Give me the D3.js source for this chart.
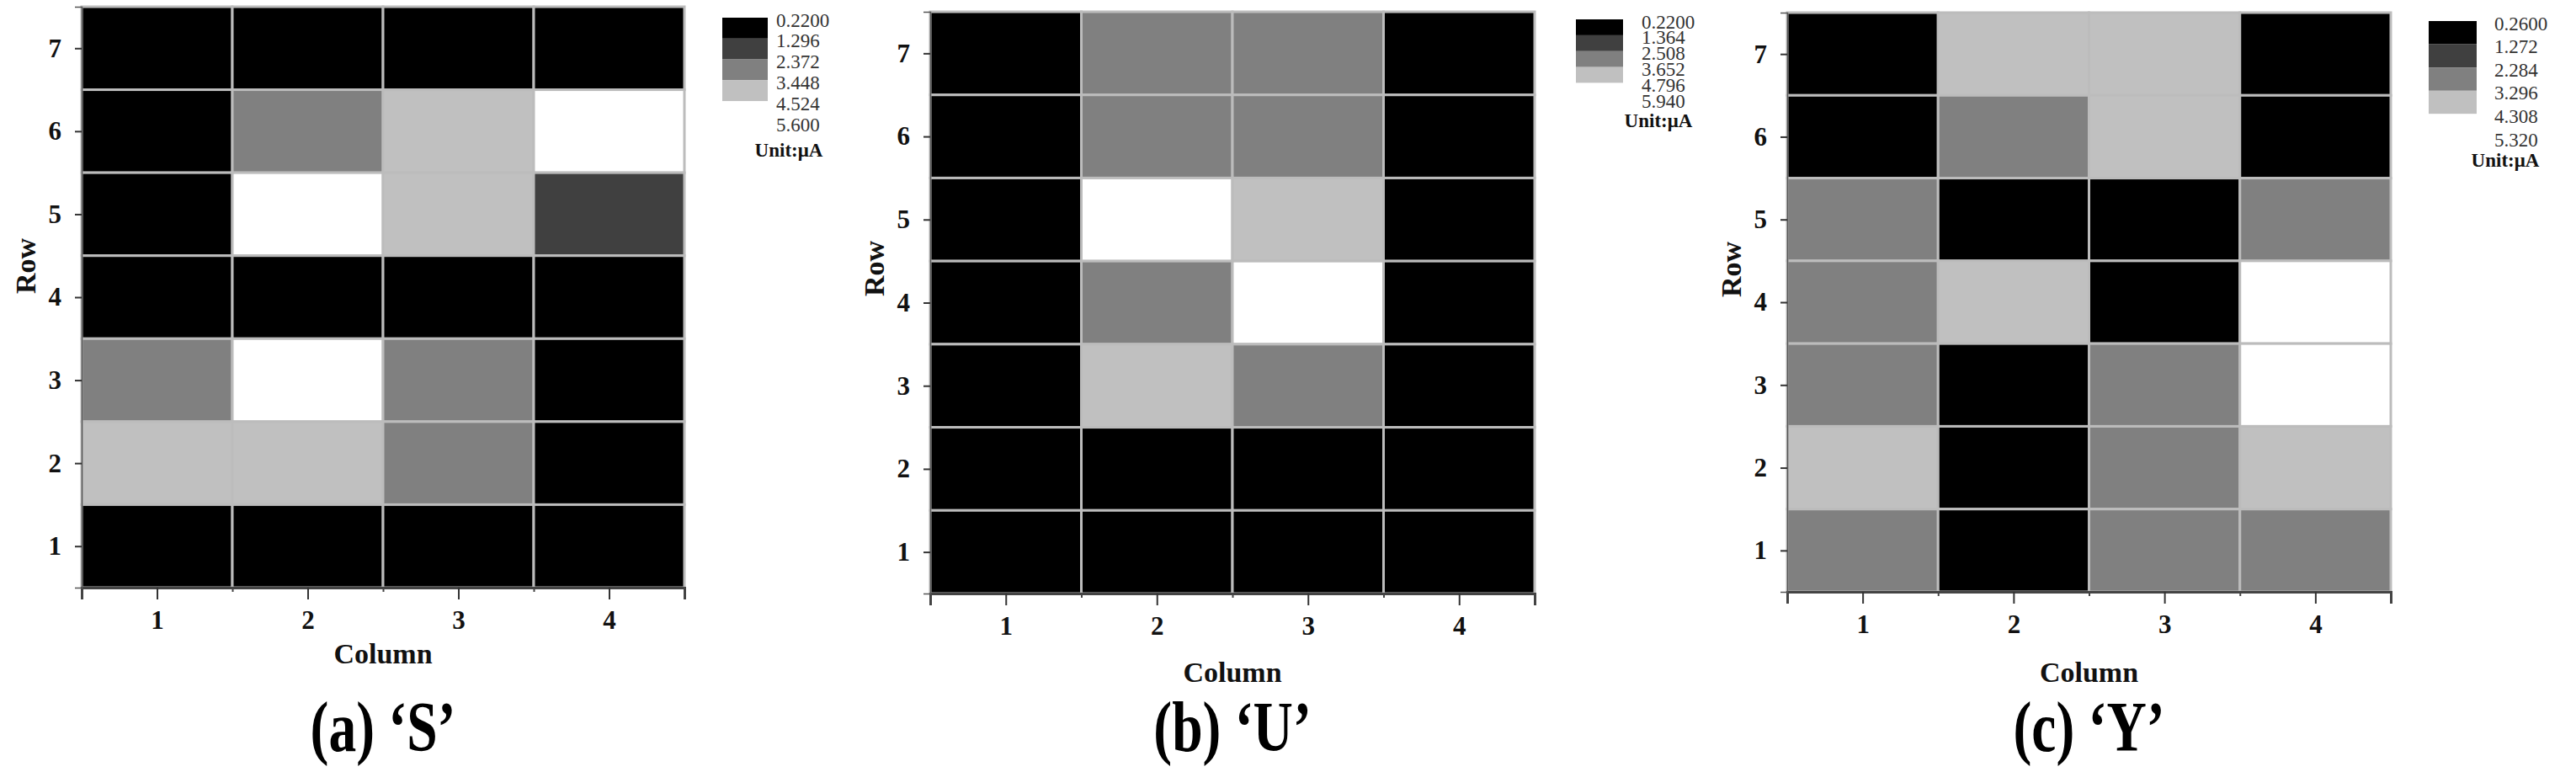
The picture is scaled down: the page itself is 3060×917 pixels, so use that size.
<!DOCTYPE html>
<html>
<head>
<meta charset="utf-8">
<script src="https://cdn.jsdelivr.net/npm/d3@7"></script>
<style>
  body { margin: 0; background: #fff; }
  text { font-family: "Liberation Serif", "Times New Roman", serif; }
</style>
</head>
<body>
<svg id="chart" width="3060" height="917"></svg>
<script>
// ---------------- DATA ----------------
const columns = [1, 2, 3, 4];
const rows = [1, 2, 3, 4, 5, 6, 7];
const rowsTopDown = [7, 6, 5, 4, 3, 2, 1];

// Current (µA), listed row 7 (top) to row 1 (bottom), columns 1..4
const sValues = [
  [0.35, 0.41, 0.38, 0.45],
  [0.52, 2.95, 3.92, 5.31],
  [0.47, 5.42, 4.05, 1.86],
  [0.33, 0.40, 0.36, 0.44],
  [2.88, 5.27, 3.01, 0.50],
  [4.12, 3.86, 2.79, 0.42],
  [0.30, 0.37, 0.34, 0.39]
];
const uValues = [
  [0.38, 3.12, 3.05, 0.41],
  [0.44, 2.97, 3.18, 0.36],
  [0.40, 5.62, 4.21, 0.47],
  [0.35, 3.08, 5.71, 0.42],
  [0.39, 4.15, 3.02, 0.45],
  [0.33, 0.37, 0.40, 0.36],
  [0.31, 0.34, 0.38, 0.35]
];
const yValues = [
  [0.42, 3.81, 3.75, 0.39],
  [0.45, 2.79, 3.88, 0.41],
  [2.71, 0.48, 0.44, 2.83],
  [2.86, 3.92, 0.46, 4.95],
  [2.77, 0.40, 2.69, 5.08],
  [3.85, 0.43, 2.91, 3.79],
  [2.74, 0.38, 2.82, 2.88]
];

const sThresholds = [0.22, 1.296, 2.372, 3.448, 4.524, 5.6];
const uThresholds = [0.22, 1.364, 2.508, 3.652, 4.796, 5.94];
const yThresholds = [0.26, 1.272, 2.284, 3.296, 4.308, 5.32];

const sLegendLabels = ["0.2200", "1.296", "2.372", "3.448", "4.524", "5.600"];
const uLegendLabels = ["0.2200", "1.364", "2.508", "3.652", "4.796", "5.940"];
const yLegendLabels = ["0.2600", "1.272", "2.284", "3.296", "4.308", "5.320"];

const captions = ["(a) \u2018S\u2019", "(b) \u2018U\u2019", "(c) \u2018Y\u2019"];
const xTitle = "Column";
const yTitle = "Row";
const unitLabel = "Unit:\u03BCA";

const bandColors = ["#000000", "#404040", "#808080", "#c0c0c0", "#ffffff"];

// ---------------- LAYOUT ----------------
const layouts = [
  { L: 97,   R: 813,  T: 8,  B: 698, swX: 858,  swW: 54, lgTop: 21, lgStep: 24.8, lblX: 922,  unitX: 937,  unitY: 178, colY: 788, rowY: 316 },
  { L: 1105, R: 1823, T: 14, B: 705, swX: 1872, swW: 56, lgTop: 23, lgStep: 18.9, lblX: 1950, unitX: 1970, unitY: 143, colY: 810, rowY: 319 },
  { L: 2123, R: 2840, T: 15, B: 703, swX: 2885, swW: 57, lgTop: 25, lgStep: 27.6, lblX: 2963, unitX: 2976, unitY: 190, colY: 810, rowY: 320 }
];

const panels = [
  { values: sValues, thresholds: sThresholds, legend: sLegendLabels, caption: captions[0], lay: layouts[0] },
  { values: uValues, thresholds: uThresholds, legend: uLegendLabels, caption: captions[1], lay: layouts[1] },
  { values: yValues, thresholds: yThresholds, legend: yLegendLabels, caption: captions[2], lay: layouts[2] }
];

const svg = d3.select("#chart");

panels.forEach(p => {
  const lay = p.lay;
  const g = svg.append("g");
  const x = d3.scaleLinear().domain([0.5, 4.5]).range([lay.L, lay.R]);
  const y = d3.scaleLinear().domain([0.5, 7.5]).range([lay.B, lay.T]);
  const color = d3.scaleThreshold().domain(p.thresholds.slice(1, 5)).range(bandColors);

  const cells = [];
  p.values.forEach((rowVals, i) => {
    rowVals.forEach((v, j) => cells.push({ r: rowsTopDown[i], c: columns[j], v }));
  });

  g.append("g").selectAll("rect").data(cells).join("rect")
    .attr("x", d => x(d.c - 0.5))
    .attr("y", d => y(d.r + 0.5))
    .attr("width", d => x(d.c + 0.5) - x(d.c - 0.5))
    .attr("height", d => y(d.r - 0.5) - y(d.r + 0.5))
    .attr("fill", d => color(d.v))
    .attr("stroke", "#bcbcbc")
    .attr("stroke-width", 3);

  // X axis: major ticks at column centres
  const xAxis = g.append("g").attr("transform", `translate(0,${lay.B})`)
    .call(d3.axisBottom(x).tickValues(columns).tickSize(14).tickPadding(13).tickFormat(d3.format("d")));
  // minor ticks at cell boundaries
  const xMinor = g.append("g").attr("transform", `translate(0,${lay.B})`)
    .call(d3.axisBottom(x).tickValues([0.5, 1.5, 2.5, 3.5, 4.5]).tickSize(5).tickFormat(""));
  xMinor.select(".domain").remove();

  const yAxis = g.append("g").attr("transform", `translate(${lay.L},0)`)
    .call(d3.axisLeft(y).tickValues(rows).tickSize(8).tickPadding(16).tickFormat(d3.format("d")));

  [xAxis, yAxis].forEach(a => {
    a.selectAll("text").attr("font-size", 31).attr("font-weight", "bold")
      .attr("font-family", "'Liberation Serif', serif").attr("fill", "#111");
    a.selectAll(".tick line").attr("stroke", "#333").attr("stroke-width", 2);
  });
  xMinor.selectAll(".tick line").attr("stroke", "#444").attr("stroke-width", 2);
  xAxis.select(".domain").attr("stroke", "#444").attr("stroke-width", 3);
  yAxis.select(".domain").attr("stroke", "#555").attr("stroke-width", 1.5);

  // Axis titles
  g.append("text")
    .attr("x", (lay.L + lay.R) / 2).attr("y", lay.colY)
    .attr("text-anchor", "middle").attr("font-size", 34).attr("font-weight", "bold").attr("fill", "#111")
    .text(xTitle);
  g.append("text")
    .attr("transform", `translate(${lay.L - 55},${lay.rowY}) rotate(-90)`)
    .attr("text-anchor", "middle").attr("font-size", 34).attr("font-weight", "bold").attr("fill", "#111")
    .text(yTitle);

  // Caption (condensed bold serif)
  g.append("text")
    .attr("transform", `translate(${(lay.L + lay.R) / 2},892) scale(0.78,1)`)
    .attr("text-anchor", "middle").attr("font-size", 84).attr("font-weight", "bold").attr("fill", "#000")
    .text(p.caption);

  // Legend
  const ly = d3.scaleLinear().domain([0, 5]).range([lay.lgTop, lay.lgTop + 5 * lay.lgStep]);
  const lg = g.append("g");
  lg.selectAll("rect").data(d3.range(5)).join("rect")
    .attr("x", lay.swX).attr("y", k => ly(k))
    .attr("width", lay.swW).attr("height", k => ly(k + 1) - ly(k))
    .attr("fill", k => bandColors[k]);
  lg.selectAll("text.lbl").data(p.legend).join("text").attr("class", "lbl")
    .attr("x", lay.lblX).attr("y", (d, k) => ly(k) + 3)
    .attr("dominant-baseline", "central")
    .attr("font-size", 23).attr("fill", "#333")
    .text(d => d);
  lg.append("text")
    .attr("x", lay.unitX).attr("y", lay.unitY)
    .attr("text-anchor", "middle").attr("dominant-baseline", "central")
    .attr("font-size", 23).attr("font-weight", "bold").attr("fill", "#111")
    .text(unitLabel);
});
</script>
</body>
</html>
